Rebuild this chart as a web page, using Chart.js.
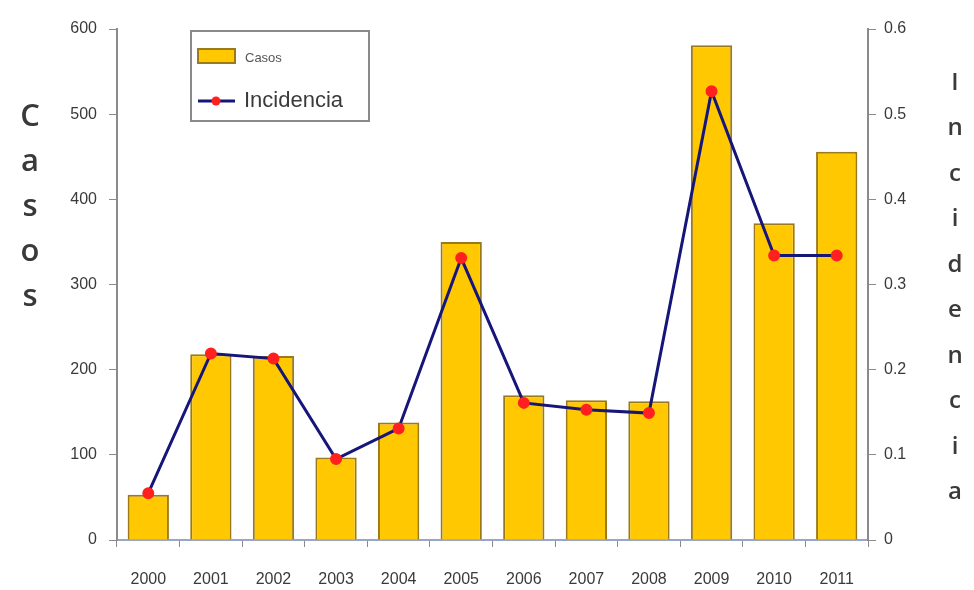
<!DOCTYPE html>
<html>
<head>
<meta charset="utf-8">
<script src="https://cdn.jsdelivr.net/npm/chart.js@4"></script>
<style>
  html, body { margin: 0; padding: 0; background: #fff; }
  #wrap { width: 974px; height: 590px; }
</style>
</head>
<body>
<div id="wrap"><canvas id="casosChart" width="974" height="590"></canvas></div>
<script>
const years = ["2000", "2001", "2002", "2003", "2004", "2005", "2006", "2007", "2008", "2009", "2010", "2011"];
const casos = [53, 218, 216, 97, 138, 350, 170, 164, 163, 581, 372, 456];
const incidencia = [0.055, 0.219, 0.213, 0.095, 0.131, 0.331, 0.161, 0.153, 0.149, 0.527, 0.334, 0.334];
const leftTitle = "Casos";
const rightTitle = "Incidencia";

// stacked letters for both axis titles + the boxed legend
const sideTitles = {
  id: "sideTitles",
  afterDraw(chart) {
    const c = chart.ctx;
    c.save();
    c.fillStyle = "#3a3a3a";
    c.textAlign = "center";
    c.textBaseline = "middle";
    c.font = "600 31px 'Open Sans', sans-serif";
    leftTitle.split("").forEach((ch, i) => c.fillText(ch, 30, 117 + i * 45));
    c.font = "600 24px 'Open Sans', sans-serif";
    rightTitle.split("").forEach((ch, i) => c.fillText(ch, 955, 83 + i * 45.5));

    // legend
    c.strokeStyle = "#8a8a8a";
    c.lineWidth = 2;
    c.strokeRect(191, 31, 178, 90);
    c.fillStyle = "#FFC800";
    c.strokeStyle = "#9a7a1a";
    c.lineWidth = 2;
    c.fillRect(198, 49, 37, 14);
    c.strokeRect(198, 49, 37, 14);
    c.fillStyle = "#555";
    c.textAlign = "left";
    c.font = "13px 'Liberation Sans', Arial, sans-serif";
    c.fillText("Casos", 245, 58);
    c.strokeStyle = "#16167a";
    c.lineWidth = 3;
    c.beginPath();
    c.moveTo(198, 101);
    c.lineTo(235, 101);
    c.stroke();
    c.fillStyle = "#ff2020";
    c.beginPath();
    c.arc(216, 101, 4.5, 0, Math.PI * 2);
    c.fill();
    c.fillStyle = "#3a3a3a";
    c.font = "22px 'Liberation Sans', Arial, sans-serif";
    c.fillText("Incidencia", 244, 101);
    c.restore();
  }
};

const axisGray = "#8a8a8a";
const tickFont = { family: "'Liberation Sans', Arial, sans-serif", size: 16 };
const tickColor = "#3a3a3a";

new Chart(document.getElementById("casosChart"), {
  type: "bar",
  data: {
    labels: years,
    datasets: [
      {
        type: "line",
        label: "Incidencia",
        data: incidencia,
        yAxisID: "y1",
        borderColor: "#16167a",
        borderWidth: 3,
        pointBackgroundColor: "#ff2020",
        pointBorderColor: "#ff2020",
        pointRadius: 4.5,
        tension: 0,
        order: 0,
      },
      {
        label: "Casos",
        data: casos,
        yAxisID: "y",
        backgroundColor: "#FFC800",
        borderColor: "#9a7a1a",
        borderWidth: 2,
        categoryPercentage: 1,
        barPercentage: 0.66,
        order: 1,
      },
    ],
  },
  options: {
    responsive: false,
    animation: false,
    layout: { padding: { top: 29, left: 0, right: 0, bottom: 0 } },
    plugins: {
      legend: { display: false },
      tooltip: { enabled: false },
    },
    scales: {
      x: {
        grid: { drawOnChartArea: false, tickLength: 7, color: axisGray },
        border: { color: "#9aa6c8", width: 2 },
        ticks: { color: tickColor, font: tickFont, padding: 23, maxRotation: 0 },
        afterFit(scale) { scale.height = 50; },
      },
      y: {
        position: "left",
        min: 0,
        max: 600,
        grid: { drawOnChartArea: false, tickLength: 8, color: axisGray },
        border: { color: axisGray, width: 2 },
        ticks: { stepSize: 100, color: tickColor, font: tickFont, padding: 12 },
        afterFit(scale) { scale.width = 117; },
      },
      y1: {
        position: "right",
        min: 0,
        max: 0.6,
        grid: { drawOnChartArea: false, tickLength: 8, color: axisGray },
        border: { color: axisGray, width: 2 },
        ticks: { stepSize: 0.1, color: tickColor, font: tickFont, padding: 8 },
        afterFit(scale) { scale.width = 106; },
      },
    },
  },
  plugins: [sideTitles],
});
</script>
</body>
</html>
